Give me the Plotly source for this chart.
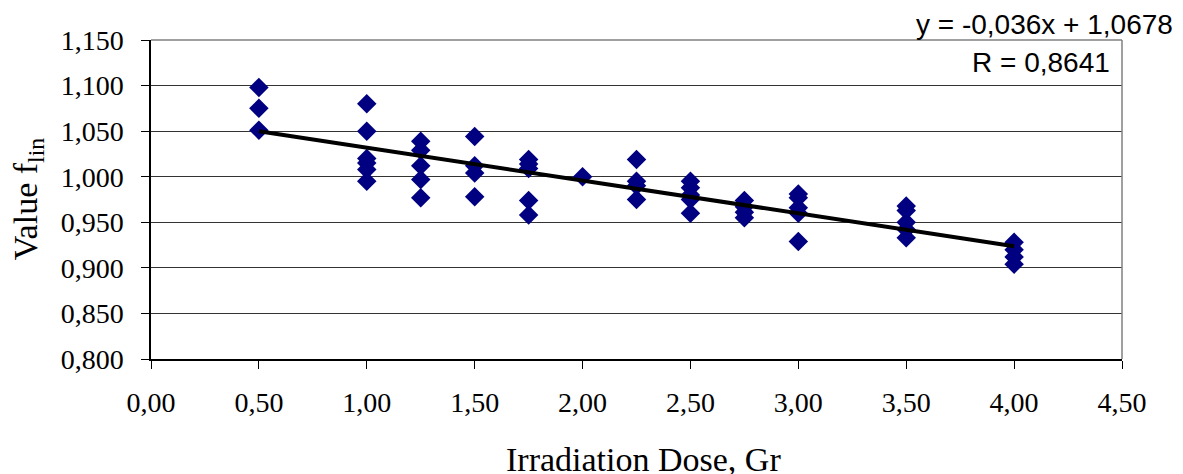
import numpy as np
import plotly.graph_objects as go

# ---- data ----
dose = [0.5, 0.5, 0.5,
        1.0, 1.0, 1.0, 1.0, 1.0, 1.0,
        1.25, 1.25, 1.25, 1.25, 1.25,
        1.5, 1.5, 1.5, 1.5,
        1.75, 1.75, 1.75, 1.75, 1.75,
        2.0,
        2.25, 2.25, 2.25, 2.25,
        2.5, 2.5, 2.5, 2.5, 2.5,
        2.75, 2.75, 2.75, 2.75,
        3.0, 3.0, 3.0, 3.0, 3.0,
        3.5, 3.5, 3.5, 3.5, 3.5,
        4.0, 4.0, 4.0, 4.0]
value = [1.098, 1.075, 1.051,
         1.080, 1.050, 1.020, 1.015, 1.008, 0.995,
         1.039, 1.029, 1.012, 0.997, 0.977,
         1.044, 1.012, 1.004, 0.978,
         1.019, 1.014, 1.009, 0.974, 0.958,
         1.000,
         1.019, 0.995, 0.990, 0.975,
         0.995, 0.988, 0.980, 0.975, 0.960,
         0.974, 0.967, 0.961, 0.955,
         0.981, 0.977, 0.966, 0.960, 0.929,
         0.968, 0.963, 0.950, 0.942, 0.933,
         0.928, 0.920, 0.912, 0.904]

slope = -0.036
intercept = 1.0678
r_value = "0,8641"

x_ticks = [0, 0.5, 1, 1.5, 2, 2.5, 3, 3.5, 4, 4.5]
y_ticks = [0.80, 0.85, 0.90, 0.95, 1.00, 1.05, 1.10, 1.15]

trend_x = np.array([min(dose), max(dose)])
trend_y = slope * trend_x + intercept

fig = go.Figure()
fig.add_trace(go.Scatter(
    x=dose, y=value, mode="markers",
    marker=dict(symbol="diamond", size=15, color="#000080",
                line=dict(width=0)),
    showlegend=False))
fig.add_trace(go.Scatter(
    x=trend_x, y=trend_y, mode="lines",
    line=dict(color="black", width=4), showlegend=False, hoverinfo="skip"))

serif = "Liberation Serif, Times New Roman, serif"
sans = "Liberation Sans, Arial, sans-serif"

fig.update_layout(
    width=1183, height=474,
    margin=dict(l=151, r=61, t=40, b=115),
    paper_bgcolor="white", plot_bgcolor="white",
    separators=", ",
    font=dict(family=serif, size=28, color="black"),
    xaxis=dict(range=[0, 4.5], tickvals=x_ticks, tickformat=".2f",
               showgrid=False, zeroline=False,
               showline=True, linecolor="black", linewidth=1.5, mirror=False,
               ticks="outside", ticklen=8, tickcolor="black",
               ticklabelstandoff=10,
               tickfont=dict(family=serif, size=28, color="black")),
    yaxis=dict(range=[0.8, 1.15], tickvals=y_ticks, tickformat=".3f",
               showgrid=True, gridcolor="#333333", gridwidth=1.2,
               zeroline=False,
               showline=True, linecolor="black", linewidth=1.5,
               ticks="outside", ticklen=8, tickcolor="black",
               ticklabelstandoff=12,
               tickfont=dict(family=serif, size=28, color="black")),
    shapes=[
        dict(type="line", xref="paper", yref="paper", x0=0, x1=1, y0=1, y1=1,
             line=dict(color="#808080", width=1.5)),
        dict(type="line", xref="paper", yref="paper", x0=1, x1=1, y0=0, y1=1,
             line=dict(color="#808080", width=1.5)),
    ],
    annotations=[
        dict(text="Irradiation Dose, Gr", xref="paper", yref="paper",
             x=0.507, y=-0.315, xanchor="center", yanchor="middle",
             showarrow=False,
             font=dict(family=serif, size=34, color="black")),
        dict(text="Value f<sub>lin</sub>", xref="paper", yref="paper",
             x=-0.127, y=0.5, xanchor="center", yanchor="middle",
             textangle=-90, showarrow=False,
             font=dict(family=serif, size=34, color="black")),
        dict(text="y = -0,036x + 1,0678", xref="paper", yref="paper",
             x=1.0546, y=1.050, xanchor="right", yanchor="middle",
             showarrow=False, font=dict(family=sans, size=28, color="black")),
        dict(text="R = " + r_value, xref="paper", yref="paper",
             x=0.9897, y=0.931, xanchor="right", yanchor="middle",
             showarrow=False, font=dict(family=sans, size=28, color="black")),
    ],
)

fig.write_html("out.html",
               config={"displayModeBar": False},
               post_script="document.body.style.margin='0';document.body.style.overflow='hidden';")
